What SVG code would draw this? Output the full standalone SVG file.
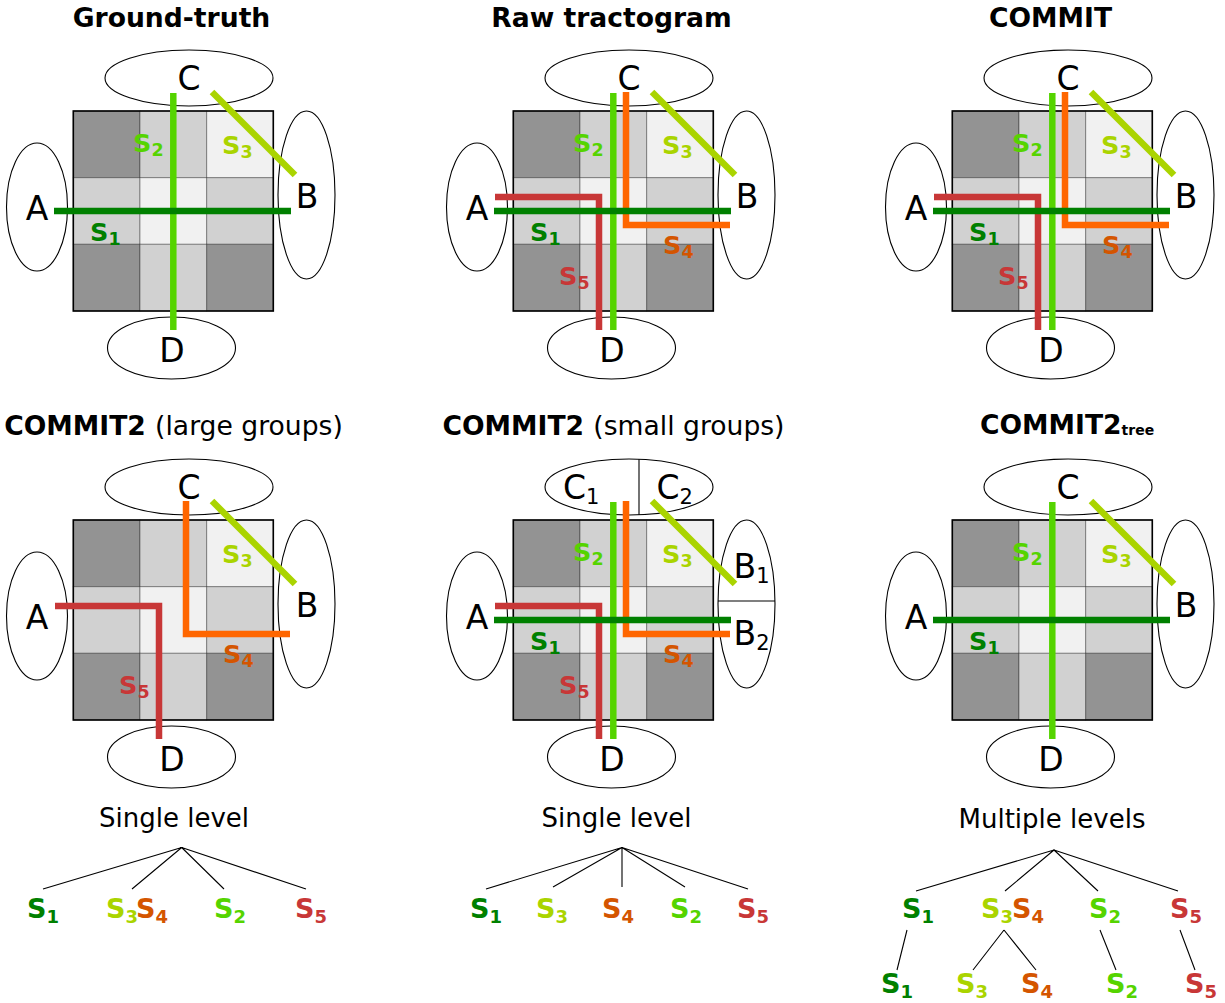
<svg xmlns="http://www.w3.org/2000/svg" xmlns:xlink="http://www.w3.org/1999/xlink" width="1225" height="1003" viewBox="0 0 1225 1003">
<style>
text{font-family:"DejaVu Sans","Liberation Sans",sans-serif;}
.title{font-size:26.6px;font-weight:bold;text-anchor:middle;}
.reg{font-weight:normal;}
.big{font-size:33px;text-anchor:middle;}
.bigs{font-size:33px;}
.bsub{font-size:21px;}
.sl{font-size:25.5px;font-weight:bold;}
.tl{font-size:27px;font-weight:bold;}
.sub{font-size:17.5px;}
.tsub{font-size:18px;}
.cap{font-size:26px;text-anchor:middle;}
.roi{fill:#fff;stroke:#000;stroke-width:1.1;}
.sl1{stroke:#008000;stroke-width:6.5;fill:none;}
.sl2{stroke:#55d400;stroke-width:6.5;fill:none;}
.sl3{stroke:#aad400;stroke-width:6.5;fill:none;}
.sl4{stroke:#ff6600;stroke-width:6.5;fill:none;}
.sl5{stroke:#c83737;stroke-width:6.5;fill:none;}
.c1{fill:#008000;}.c2{fill:#55d400;}.c3{fill:#aad400;}.c4{fill:#d45500;}.c5{fill:#c83737;}
.tree{stroke:#000;stroke-width:1.1;fill:none;}
.dk{fill:#939393;}.md{fill:#d1d1d1;}.lt{fill:#f1f1f1;}
.cell{stroke:#000;stroke-opacity:0.35;stroke-width:1;}
</style>
<defs>
<g id="grid">
<g class="cell">
<rect class="dk" x="73.3" y="111" width="66.7" height="66.7"/>
<rect class="md" x="140" y="111" width="66.7" height="66.7"/>
<rect class="lt" x="206.7" y="111" width="66.6" height="66.7"/>
<rect class="md" x="73.3" y="177.7" width="66.7" height="66.6"/>
<rect class="lt" x="140" y="177.7" width="66.7" height="66.6"/>
<rect class="md" x="206.7" y="177.7" width="66.6" height="66.6"/>
<rect class="dk" x="73.3" y="244.3" width="66.7" height="66.7"/>
<rect class="md" x="140" y="244.3" width="66.7" height="66.7"/>
<rect class="dk" x="206.7" y="244.3" width="66.6" height="66.7"/>
</g>
<rect x="73.3" y="111" width="200" height="200" fill="none" stroke="#000" stroke-width="1.6"/>
</g>
<g id="roiA"><ellipse class="roi" cx="37" cy="207" rx="30.5" ry="64"/></g>
<g id="roiB"><ellipse class="roi" cx="306.5" cy="195" rx="28.5" ry="84"/></g>
<g id="roiC"><ellipse class="roi" cx="189" cy="78" rx="84" ry="28"/></g>
<g id="roiD"><ellipse class="roi" cx="171.5" cy="348" rx="64" ry="31"/></g>
<path id="p1" class="sl1" d="M54,211 H291"/>
<path id="p2" class="sl2" d="M173.3,93 V330"/>
<path id="p3" class="sl3" d="M212,92 L295,175"/>
<path id="p4" class="sl4" d="M186,92 V225 H290"/>
<path id="p5" class="sl5" d="M55,197 H159 V330"/>
</defs>

<!-- Titles -->
<g id="titles">
<text class="title" x="171.5" y="27">Ground-truth</text>
<text class="title" x="611.5" y="27">Raw tractogram</text>
<text class="title" x="1050.5" y="27">COMMIT</text>
<text class="title" x="173.5" y="435">COMMIT2 <tspan class="reg">(large groups)</tspan></text>
<text class="title" x="613.5" y="435">COMMIT2 <tspan class="reg">(small groups)</tspan></text>
<text class="title" x="980" y="434" style="text-anchor:start">COMMIT2<tspan style="font-size:14px" dy="1">tree</tspan></text>
</g>

<!-- Panel 1: Ground-truth -->
<g id="panel-groundtruth" transform="translate(0,0)">
<use xlink:href="#grid"/>
<g id="gt-A"><use xlink:href="#roiA"/><text class="big" x="37" y="220">A</text></g>
<g id="gt-B"><use xlink:href="#roiB"/><text class="big" x="307" y="208">B</text></g>
<g id="gt-C"><use xlink:href="#roiC"/><text class="big" x="189" y="90">C</text></g>
<g id="gt-D"><use xlink:href="#roiD"/><text class="big" x="172" y="362">D</text></g>
<g id="gt-streamlines">
<use xlink:href="#p2"/><use xlink:href="#p3"/><use xlink:href="#p1"/>
</g>
<text class="sl c1" x="90" y="241">S<tspan class="sub" dy="4">1</tspan></text>
<text class="sl c2" x="133" y="152">S<tspan class="sub" dy="4">2</tspan></text>
<text class="sl c3" x="222" y="154">S<tspan class="sub" dy="4">3</tspan></text>
</g>

<!-- Panel 2: Raw tractogram -->
<g id="panel-raw" transform="translate(440,0)">
<use xlink:href="#grid"/>
<g id="raw-A"><use xlink:href="#roiA"/><text class="big" x="37" y="220">A</text></g>
<g id="raw-B"><use xlink:href="#roiB"/><text class="big" x="307" y="208">B</text></g>
<g id="raw-C"><use xlink:href="#roiC"/><text class="big" x="189" y="90">C</text></g>
<g id="raw-D"><use xlink:href="#roiD"/><text class="big" x="172" y="362">D</text></g>
<g id="raw-streamlines">
<use xlink:href="#p5"/><use xlink:href="#p4"/><use xlink:href="#p2"/><use xlink:href="#p3"/><use xlink:href="#p1"/>
</g>
<text class="sl c1" x="90" y="241">S<tspan class="sub" dy="4">1</tspan></text>
<text class="sl c2" x="133" y="152">S<tspan class="sub" dy="4">2</tspan></text>
<text class="sl c3" x="222" y="154">S<tspan class="sub" dy="4">3</tspan></text>
<text class="sl c4" x="223" y="254">S<tspan class="sub" dy="4">4</tspan></text>
<text class="sl c5" x="119" y="285">S<tspan class="sub" dy="4">5</tspan></text>
</g>

<!-- Panel 3: COMMIT -->
<g id="panel-commit" transform="translate(879,0)">
<use xlink:href="#grid"/>
<g id="cm-A"><use xlink:href="#roiA"/><text class="big" x="37" y="220">A</text></g>
<g id="cm-B"><use xlink:href="#roiB"/><text class="big" x="307" y="208">B</text></g>
<g id="cm-C"><use xlink:href="#roiC"/><text class="big" x="189" y="90">C</text></g>
<g id="cm-D"><use xlink:href="#roiD"/><text class="big" x="172" y="362">D</text></g>
<g id="cm-streamlines">
<use xlink:href="#p5"/><use xlink:href="#p4"/><use xlink:href="#p2"/><use xlink:href="#p3"/><use xlink:href="#p1"/>
</g>
<text class="sl c1" x="90" y="241">S<tspan class="sub" dy="4">1</tspan></text>
<text class="sl c2" x="133" y="152">S<tspan class="sub" dy="4">2</tspan></text>
<text class="sl c3" x="222" y="154">S<tspan class="sub" dy="4">3</tspan></text>
<text class="sl c4" x="223" y="254">S<tspan class="sub" dy="4">4</tspan></text>
<text class="sl c5" x="119" y="285">S<tspan class="sub" dy="4">5</tspan></text>
</g>

<!-- Panel 4: COMMIT2 large groups -->
<g id="panel-c2large" transform="translate(0,409)">
<use xlink:href="#grid"/>
<g id="lg-A"><use xlink:href="#roiA"/><text class="big" x="37" y="220">A</text></g>
<g id="lg-B"><use xlink:href="#roiB"/><text class="big" x="307" y="208">B</text></g>
<g id="lg-C"><use xlink:href="#roiC"/><text class="big" x="189" y="90">C</text></g>
<g id="lg-D"><use xlink:href="#roiD"/><text class="big" x="172" y="362">D</text></g>
<g id="lg-streamlines">
<use xlink:href="#p5"/><use xlink:href="#p4"/><use xlink:href="#p3"/>
</g>
<text class="sl c3" x="222" y="154">S<tspan class="sub" dy="4">3</tspan></text>
<text class="sl c4" x="223" y="254">S<tspan class="sub" dy="4">4</tspan></text>
<text class="sl c5" x="119" y="285">S<tspan class="sub" dy="4">5</tspan></text>
</g>

<!-- Panel 5: COMMIT2 small groups -->
<g id="panel-c2small" transform="translate(440,409)">
<use xlink:href="#grid"/>
<g id="sm-A"><use xlink:href="#roiA"/><text class="big" x="37" y="220">A</text></g>
<g id="sm-B"><use xlink:href="#roiB"/><line x1="278" y1="192" x2="335" y2="192" stroke="#000" stroke-width="1.1"/>
<text class="bigs" x="293.5" y="169">B<tspan class="bsub" dy="5">1</tspan></text>
<text class="bigs" x="293.5" y="236">B<tspan class="bsub" dy="5">2</tspan></text></g>
<g id="sm-C"><use xlink:href="#roiC"/><line x1="199" y1="50.3" x2="199" y2="105.7" stroke="#000" stroke-width="1.1"/>
<text class="bigs" x="123" y="90">C<tspan class="bsub" dy="5">1</tspan></text>
<text class="bigs" x="216.5" y="90">C<tspan class="bsub" dy="5">2</tspan></text></g>
<g id="sm-D"><use xlink:href="#roiD"/><text class="big" x="172" y="362">D</text></g>
<g id="sm-streamlines">
<use xlink:href="#p5"/><use xlink:href="#p4"/><use xlink:href="#p2"/><use xlink:href="#p3"/><use xlink:href="#p1"/>
</g>
<text class="sl c1" x="90" y="241">S<tspan class="sub" dy="4">1</tspan></text>
<text class="sl c2" x="133" y="152">S<tspan class="sub" dy="4">2</tspan></text>
<text class="sl c3" x="222" y="154">S<tspan class="sub" dy="4">3</tspan></text>
<text class="sl c4" x="223" y="254">S<tspan class="sub" dy="4">4</tspan></text>
<text class="sl c5" x="119" y="285">S<tspan class="sub" dy="4">5</tspan></text>
</g>

<!-- Panel 6: COMMIT2 tree -->
<g id="panel-c2tree" transform="translate(879,409)">
<use xlink:href="#grid"/>
<g id="tr-A"><use xlink:href="#roiA"/><text class="big" x="37" y="220">A</text></g>
<g id="tr-B"><use xlink:href="#roiB"/><text class="big" x="307" y="208">B</text></g>
<g id="tr-C"><use xlink:href="#roiC"/><text class="big" x="189" y="90">C</text></g>
<g id="tr-D"><use xlink:href="#roiD"/><text class="big" x="172" y="362">D</text></g>
<g id="tr-streamlines">
<use xlink:href="#p2"/><use xlink:href="#p3"/><use xlink:href="#p1"/>
</g>
<text class="sl c1" x="90" y="241">S<tspan class="sub" dy="4">1</tspan></text>
<text class="sl c2" x="133" y="152">S<tspan class="sub" dy="4">2</tspan></text>
<text class="sl c3" x="222" y="154">S<tspan class="sub" dy="4">3</tspan></text>
</g>

<!-- Tree 1 -->
<g id="tree-large">
<text class="cap" x="174" y="827">Single level</text>
<g id="tree-large-edges" class="tree">
<path d="M181.7,847.5 L43,889 M181.7,847.5 L132,889 M181.7,847.5 L224,889 M181.7,847.5 L306,889"/>
</g>
<text class="tl c1" x="27" y="918">S<tspan class="tsub" dy="5">1</tspan></text>
<text class="tl c3" x="106" y="918">S<tspan class="tsub" dy="5">3</tspan></text>
<text class="tl c4" x="136" y="918">S<tspan class="tsub" dy="5">4</tspan></text>
<text class="tl c2" x="214" y="918">S<tspan class="tsub" dy="5">2</tspan></text>
<text class="tl c5" x="295" y="918">S<tspan class="tsub" dy="5">5</tspan></text>
</g>

<!-- Tree 2 -->
<g id="tree-small">
<text class="cap" x="616.5" y="827">Single level</text>
<g id="tree-small-edges" class="tree">
<path d="M622,847.5 L486,889 M622,847.5 L553,887 M622,847.5 L622,887 M622,847.5 L685,887 M622,847.5 L748,889"/>
</g>
<text class="tl c1" x="470" y="918">S<tspan class="tsub" dy="5">1</tspan></text>
<text class="tl c3" x="536" y="918">S<tspan class="tsub" dy="5">3</tspan></text>
<text class="tl c4" x="602" y="918">S<tspan class="tsub" dy="5">4</tspan></text>
<text class="tl c2" x="670" y="918">S<tspan class="tsub" dy="5">2</tspan></text>
<text class="tl c5" x="737" y="918">S<tspan class="tsub" dy="5">5</tspan></text>
</g>

<!-- Tree 3 -->
<g id="tree-multi">
<text class="cap" x="1052" y="828">Multiple levels</text>
<g id="tree-multi-edges" class="tree">
<path d="M1054,850 L916,891 M1054,850 L1005,891 M1054,850 L1098,891 M1054,850 L1178,891"/>
<path d="M907,930 L897,970 M1004,930 L973,970 M1004,930 L1036,970 M1100,930 L1116,970 M1180,930 L1195,970"/>
</g>
<text class="tl c1" x="902" y="918">S<tspan class="tsub" dy="5">1</tspan></text>
<text class="tl c3" x="981" y="918">S<tspan class="tsub" dy="5">3</tspan></text>
<text class="tl c4" x="1012" y="918">S<tspan class="tsub" dy="5">4</tspan></text>
<text class="tl c2" x="1089" y="918">S<tspan class="tsub" dy="5">2</tspan></text>
<text class="tl c5" x="1170" y="918">S<tspan class="tsub" dy="5">5</tspan></text>
<text class="tl c1" x="881" y="993">S<tspan class="tsub" dy="5">1</tspan></text>
<text class="tl c3" x="956" y="993">S<tspan class="tsub" dy="5">3</tspan></text>
<text class="tl c4" x="1021" y="993">S<tspan class="tsub" dy="5">4</tspan></text>
<text class="tl c2" x="1106" y="993">S<tspan class="tsub" dy="5">2</tspan></text>
<text class="tl c5" x="1185" y="993">S<tspan class="tsub" dy="5">5</tspan></text>
</g>
</svg>
